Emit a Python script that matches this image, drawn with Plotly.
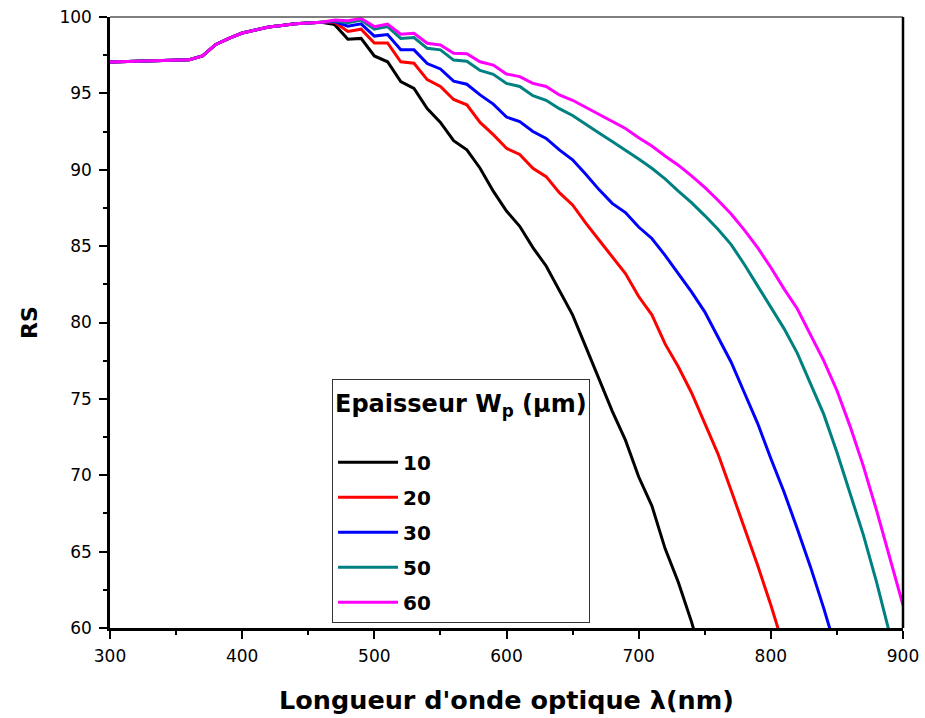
import plotly.graph_objects as go

# Wavelength grid (nm)
wavelength = list(range(300, 910, 10))

# RS shared by all thicknesses from 300 to 460 nm
rs_common = [97.05, 97.07, 97.1, 97.12, 97.15, 97.17, 97.2, 97.45, 98.2, 98.6,
             98.95, 99.15, 99.35, 99.45, 99.55, 99.6, 99.65]

# RS from 470 nm onward, per base thickness Wp
rs_10 = [99.5, 98.55, 98.6, 97.45, 97.07, 95.77, 95.33, 94.0, 93.1, 91.9, 91.3,
         90.1, 88.6, 87.3, 86.3, 84.9, 83.7, 82.1, 80.5, 78.4, 76.3, 74.2, 72.3,
         69.9, 68.0, 65.2, 63.0, 60.4, 57.4]
rs_20 = [99.65, 99.05, 99.2, 98.3, 98.3, 97.07, 96.97, 95.9, 95.45, 94.6, 94.25,
         93.1, 92.3, 91.4, 91.0, 90.1, 89.55, 88.5, 87.7, 86.5, 85.4, 84.3, 83.2,
         81.7, 80.5, 78.6, 77.1, 75.4, 73.4, 71.4, 69.0, 66.6, 64.1, 61.5, 58.7]
rs_30 = [99.7, 99.4, 99.55, 98.75, 98.85, 97.85, 97.85, 96.95, 96.6, 95.8, 95.6,
         94.9, 94.3, 93.45, 93.15, 92.5, 92.05, 91.3, 90.65, 89.7, 88.7, 87.8,
         87.2, 86.25, 85.5, 84.4, 83.2, 82.0, 80.7, 79.0, 77.4, 75.4, 73.4, 71.1,
         68.9, 66.5, 64.0, 61.3, 58.4]
rs_50 = [99.75, 99.63, 99.8, 99.2, 99.37, 98.6, 98.65, 97.95, 97.85, 97.18, 97.1,
         96.5, 96.25, 95.65, 95.45, 94.85, 94.55, 94.0, 93.55, 92.95, 92.4, 91.85,
         91.3, 90.7, 90.1, 89.4, 88.6, 87.85, 87.0, 86.1, 85.1, 83.8, 82.4, 81.0,
         79.6, 78.0, 76.0, 74.0, 71.5, 68.8, 66.1, 63.0, 59.6]
rs_60 = [99.8, 99.76, 99.9, 99.37, 99.54, 98.87, 98.93, 98.28, 98.17, 97.62, 97.6,
         97.07, 96.85, 96.27, 96.1, 95.65, 95.45, 94.9, 94.55, 94.1, 93.65, 93.2,
         92.7, 92.1, 91.55, 90.9, 90.3, 89.6, 88.85, 88.0, 87.1, 86.05, 84.9, 83.6,
         82.2, 80.9, 79.2, 77.5, 75.55, 73.2, 70.6, 67.7, 64.6, 61.5]

thickness_labels = ["10", "20", "30", "50", "60"]
series = [rs_10, rs_20, rs_30, rs_50, rs_60]
colors = ["#000000", "#ff0000", "#0000ff", "#008080", "#ff00ff"]

FONT = "DejaVu Sans, Verdana, sans-serif"

fig = go.Figure()
for label, tail, color in zip(thickness_labels, series, colors):
    values = rs_common + tail
    fig.add_trace(go.Scatter(
        x=wavelength[:len(values)], y=values, mode="lines", name=label,
        legendgroup=label,
        line=dict(color=color, width=3),
    ))

axis_common = dict(
    showline=True, linecolor="black", linewidth=2.5,
    ticks="outside", ticklen=8, tickwidth=2, tickcolor="black",
    showgrid=False, zeroline=False, automargin=False,
    tickfont=dict(family=FONT, size=17, color="black"),
)

fig.update_layout(
    width=925, height=718,
    margin=dict(l=110, r=22, t=17, b=90),
    paper_bgcolor="white", plot_bgcolor="white",
    xaxis=dict(
        range=[300, 900], dtick=100, tick0=300,
        minor=dict(dtick=50, ticklen=4, tickwidth=2, tickcolor="black", ticks="outside"),
        title=dict(text="<b>Longueur d'onde optique λ(nm)</b>",
                   font=dict(family=FONT, size=25.5, color="black"), standoff=26),
        ticklabelstandoff=3,
        **axis_common,
    ),
    yaxis=dict(
        range=[60, 100], dtick=5, tick0=60,
        minor=dict(dtick=2.5, ticklen=4, tickwidth=2, tickcolor="black", ticks="outside"),
        title=dict(text="<b>RS</b>",
                   font=dict(family=FONT, size=22, color="black"), standoff=16),
        ticklabelstandoff=4,
        **axis_common,
    ),
    legend=dict(
        x=0.28, y=0.407, xanchor="left", yanchor="top",
        bgcolor="white", bordercolor="#333333", borderwidth=1,
        font=dict(family=FONT, size=20, color="black", weight="bold"),
        title=dict(text="Epaisseur W<sub>p</sub> (µm)<br> ",
                   font=dict(family=FONT, size=24, color="black", weight="bold")),
        tracegroupgap=6,
        itemwidth=60,
    ),
    showlegend=True,
)

# Frame: thin top border and thick right border
fig.add_shape(type="line", xref="paper", yref="paper", x0=0, x1=1, y0=1, y1=1,
              line=dict(color="#555555", width=1.5))
fig.add_shape(type="line", xref="paper", yref="paper", x0=1, x1=1, y0=0, y1=1,
              line=dict(color="black", width=2.5))

fig.write_html("out.html")
